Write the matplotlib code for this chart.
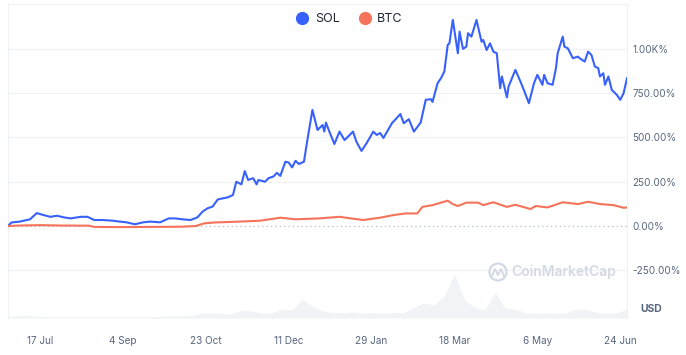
import matplotlib
matplotlib.use("Agg")
import matplotlib.pyplot as plt
from matplotlib.patches import Circle
from matplotlib.lines import Line2D
import pandas as pd

plt.rcParams['font.family'] = ['Inter', 'DejaVu Sans']

# ---------------- data (percent change since start) ----------------
sol_dates = ["2023-06-28","2023-06-30","2023-07-05","2023-07-11","2023-07-15","2023-07-19","2023-07-23",
             "2023-07-27","2023-07-31","2023-08-04","2023-08-10","2023-08-14","2023-08-18","2023-08-23",
             "2023-08-29","2023-09-02","2023-09-06","2023-09-11","2023-09-16","2023-09-20","2023-09-26",
             "2023-10-01","2023-10-05","2023-10-09","2023-10-14","2023-10-18","2023-10-21","2023-10-24",
             "2023-10-27","2023-10-30","2023-11-02","2023-11-05","2023-11-08","2023-11-10","2023-11-13",
             "2023-11-15","2023-11-17","2023-11-20","2023-11-22","2023-11-23","2023-11-27","2023-11-29",
             "2023-12-02","2023-12-04","2023-12-06","2023-12-09","2023-12-11","2023-12-13","2023-12-15",
             "2023-12-17","2023-12-20","2023-12-22","2023-12-25","2023-12-28","2023-12-31","2024-01-01",
             "2024-01-02","2024-01-04","2024-01-07","2024-01-10","2024-01-13","2024-01-18","2024-01-20",
             "2024-01-23","2024-01-26","2024-01-30","2024-02-01","2024-02-03","2024-02-05","2024-02-10",
             "2024-02-15","2024-02-17","2024-02-20","2024-02-23","2024-02-27","2024-03-01","2024-03-04",
             "2024-03-05","2024-03-08","2024-03-10","2024-03-12","2024-03-14","2024-03-15","2024-03-17",
             "2024-03-20","2024-03-21","2024-03-23","2024-03-25","2024-03-26","2024-03-28","2024-03-31",
             "2024-04-03","2024-04-04","2024-04-06","2024-04-08","2024-04-10","2024-04-12","2024-04-14",
             "2024-04-15","2024-04-18","2024-04-19","2024-04-23","2024-04-26","2024-04-28","2024-05-01",
             "2024-05-04","2024-05-06","2024-05-09","2024-05-10","2024-05-12","2024-05-15","2024-05-17",
             "2024-05-18","2024-05-21","2024-05-22","2024-05-24","2024-05-27","2024-05-30","2024-05-31",
             "2024-06-03","2024-06-05","2024-06-07","2024-06-09","2024-06-11","2024-06-12","2024-06-14",
             "2024-06-15","2024-06-17","2024-06-19","2024-06-22","2024-06-24","2024-06-26","2024-06-28"]
sol_values = [0, 20, 25, 38, 73, 62, 52,
              58, 49, 43, 52, 52, 34, 34,
              30, 25, 21, 10, 21, 25, 21,
              43, 43, 38, 34, 49, 81, 100,
              110, 150, 156, 162, 175, 250, 235,
              310, 260, 270, 235, 260, 250, 270,
              280, 300, 283, 363, 358, 331, 368,
              350, 363, 485, 655, 542, 570, 533,
              584, 533, 463, 533, 485, 533, 476,
              424, 467, 533, 514, 525, 497, 580,
              632, 580, 603, 533, 584, 712, 716,
              700, 806, 834, 872, 1022, 1031, 1163,
              975, 1097, 1000, 1012, 1088, 1069, 1163,
              1040, 1050, 993, 1031, 984, 975, 778,
              844, 726, 788, 881, 815, 768, 693,
              806, 853, 797, 853, 806, 797, 891,
              975, 1069, 1012, 1003, 947, 956, 947,
              928, 984, 965, 900, 891, 844, 862,
              797, 844, 768, 740, 712, 750, 834]

btc_dates = ["2023-06-28","2023-07-05","2023-07-17","2023-07-29","2023-08-15","2023-08-18","2023-09-02",
             "2023-09-20","2023-10-08","2023-10-17","2023-10-22","2023-10-28","2023-11-12","2023-11-24",
             "2023-12-06","2023-12-15","2023-12-29","2024-01-10","2024-01-19","2024-01-24","2024-02-03",
             "2024-02-11","2024-02-18","2024-02-25","2024-02-28","2024-03-05","2024-03-14","2024-03-17",
             "2024-03-20","2024-03-25","2024-04-01","2024-04-04","2024-04-10","2024-04-18","2024-04-23",
             "2024-05-02","2024-05-05","2024-05-12","2024-05-21","2024-05-30","2024-06-05","2024-06-12",
             "2024-06-20","2024-06-26","2024-06-28"]
btc_values = [0, 3, 5, 3, 2, -5, -6,
              -5, -4, 0, 15, 20, 25, 30,
              47, 38, 43, 52, 40, 34, 47,
              62, 71, 71, 108, 118, 143, 124,
              113, 132, 132, 118, 134, 108, 120,
              96, 113, 105, 134, 124, 137, 124,
              118, 103, 105]

# SOL trading volume (USD billions), sampled every 6 days from 2023-06-28
vol_start = "2023-06-28"
vol_values = [0.3, 0.5, 0.7, 0.4, 0.3, 0.3, 0.3, 0.3, 0.3, 0.3, 0.3, 0.3, 0.3, 0.3, 0.3,
              0.4, 0.5, 0.5, 0.6, 1.0, 1.2, 1.0, 0.9, 1.8, 1.6, 1.1, 1.2, 2.0, 1.8, 4.3,
              2.6, 1.6, 1.3, 1.2, 1.4, 1.1, 1.2, 1.0, 1.3, 1.2, 2.5, 3.4, 3.0, 5.0, 10.0,
              4.0, 2.5, 1.8, 5.9, 2.3, 2.0, 1.2, 1.0, 1.1, 1.0, 1.2, 2.0, 2.0, 1.3, 1.0,
              1.2, 2.0]

tick_dates = ["2023-07-17","2023-09-04","2023-10-23","2023-12-11","2024-01-29","2024-03-18",
              "2024-05-06","2024-06-24"]
tick_date_labels = ["17 Jul","4 Sep","23 Oct","11 Dec","29 Jan","18 Mar","6 May","24 Jun"]
y_ticks = [-250, 0, 250, 500, 750, 1000]
y_tick_labels = ["-250.00%", "0.00%", "250.00%", "500.00%", "750.00%", "1.00K%"]

series_names = ["SOL", "BTC"]
series_colors = ["#3861fb", "#f4735a"]

# ---------------- figure ----------------
W, H = 686, 355
fig = plt.figure(figsize=(W/100, H/100), dpi=100)
fig.patch.set_facecolor("white")

left, right, top, bottom = 8, 627, 4, 318
ax = fig.add_axes([left/W, 1-bottom/H, (right-left)/W, (bottom-top)/H])

sd = pd.to_datetime(sol_dates)
bd = pd.to_datetime(btc_dates)
vd = pd.date_range(vol_start, periods=len(vol_values), freq="6D")

# volume in background
axv = ax.twinx()
axv.set_zorder(0)
ax.set_zorder(1)
ax.patch.set_visible(False)
axv.fill_between(vd, vol_values, color="#f1f3f6", lw=0)
axv.set_ylim(0, max(vol_values) * 314/44)
axv.set_yticks([])
for s in axv.spines.values():
    s.set_visible(False)

ax.plot(sd, sol_values, color=series_colors[0], lw=1.5, solid_joinstyle="round", zorder=3)
ax.plot(bd, btc_values, color=series_colors[1], lw=1.5, solid_joinstyle="round", zorder=3)

x0 = pd.Timestamp("2023-06-28")
x1 = pd.Timestamp("2024-06-28")
ax.set_xlim(x0, x1)
ax.set_ylim(-519, 1253)

# grid
for t in y_ticks:
    if t == 0:
        ax.axhline(t, color="#b4bccb", lw=0.9, ls=(0, (1, 2.5)), zorder=1)
    else:
        ax.axhline(t, color="#eff2f5", lw=0.8, zorder=1)

ax.yaxis.tick_right()
ax.set_yticks(y_ticks)
ax.set_yticklabels(y_tick_labels)
ax.tick_params(axis="y", length=0, pad=4, labelsize=7.2, labelcolor="#58667e")
ax.set_xticks(pd.to_datetime(tick_dates))
ax.set_xticklabels(tick_date_labels)
ax.tick_params(axis="x", length=0, pad=13, labelsize=7.2, labelcolor="#58667e")

for name, s in ax.spines.items():
    s.set_color("#eff2f5")
    s.set_linewidth(0.8)
ax.spines["bottom"].set_visible(False)

# legend
handles = [Line2D([], [], marker="o", ls="", markersize=8.5, color=c) for c in series_colors]
fig.legend(handles, series_names, loc="center", bbox_to_anchor=(350/W, 1-19/H), ncol=2,
           frameon=False, fontsize=9, handlelength=0.8, handletextpad=0.6, columnspacing=1.6,
           labelcolor="#222531")

# USD label
fig.text(651/W, 1-309/H, "USD", ha="center", va="center", fontsize=7.5, fontweight="bold",
         color="#58667e")

# watermark
fig.text(564/W, 1-272/H, "CoinMarketCap", ha="center", va="center", fontsize=10,
         fontweight="semibold", color="#d3d9e3", zorder=5)
circ = Circle((498, H-272), 8.5, transform=None, fill=False, ec="#d3d9e3", lw=1.6, zorder=5)
fig.patches.append(circ)
fig.add_artist(Line2D([492/W, 495/W, 498/W, 501/W, 504/W],
                      [1-276/H, 1-269/H, 1-275/H, 1-269/H, 1-276/H],
                      color="#d3d9e3", lw=1.4, transform=fig.transFigure))

fig.savefig("out.png", dpi=100, facecolor="white")
